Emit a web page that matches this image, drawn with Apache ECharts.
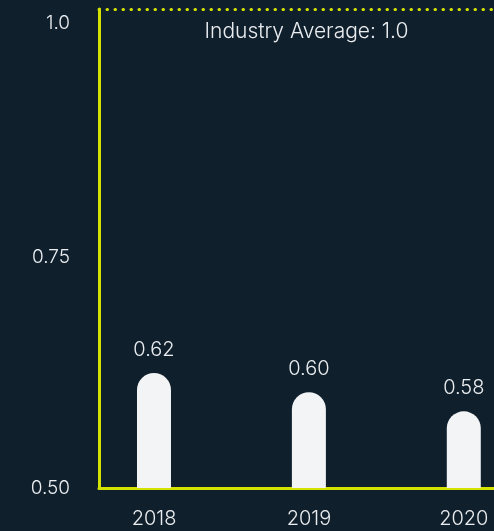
<!DOCTYPE html>
<html>
<head>
<meta charset="utf-8">
<style>
  html, body { margin: 0; padding: 0; background: #101f2c; }
  #chart { width: 494px; height: 531px; }
</style>
<script src="https://cdn.jsdelivr.net/npm/echarts@6/dist/echarts.min.js"></script>
</head>
<body>
<div id="chart"></div>
<script>
// Efficiency ratio per year against the industry benchmark
const years = [2018, 2019, 2020];
const ratios = [0.62, 0.60, 0.58];
const industryAverage = 1.0;

const ACCENT = '#d4e200';
const TEXT = '#e9edf0';
const FONT = 'Inter, "Noto Sans", sans-serif';

const chart = echarts.init(document.getElementById('chart'), null, { renderer: 'canvas' });

chart.setOption({
  backgroundColor: '#101f2c',
  animation: false,
  grid: { left: 99, right: 0, top: 9, bottom: 43, containLabel: false },
  xAxis: {
    type: 'value',
    min: 2017.645,
    max: 2020.195,
    splitLine: { show: false },
    axisLine: { show: true, lineStyle: { color: ACCENT, width: 3 } },
    axisTick: { show: false },
    axisLabel: {
      customValues: years,
      color: TEXT,
      fontFamily: FONT,
      fontWeight: 300,
      fontSize: 20,
      margin: 21,
      formatter: v => String(v)
    }
  },
  yAxis: {
    type: 'value',
    min: 0.5,
    max: 1.0,
    interval: 0.25,
    splitLine: { show: false },
    axisLine: { show: true, lineStyle: { color: ACCENT, width: 3 } },
    axisTick: { show: false },
    axisLabel: {
      color: TEXT,
      fontFamily: FONT,
      fontWeight: 300,
      fontSize: 19,
      margin: 29,
      formatter: v => {
        if (v === 1) return '{top|1.0}';
        if (v === 0.75) return '{mid|0.75}';
        return v.toFixed(2);
      },
      rich: {
        top: { color: TEXT, fontFamily: FONT, fontWeight: 300, fontSize: 19, padding: [28, 0, 0, 0] },
        mid: { color: TEXT, fontFamily: FONT, fontWeight: 300, fontSize: 19, padding: [17, 0, 0, 0] }
      }
    }
  },
  series: [{
    type: 'bar',
    barWidth: 34,
    data: years.map((y, i) => [y, ratios[i]]),
    itemStyle: { color: '#f2f4f6', borderRadius: [17, 17, 0, 0] },
    label: {
      show: true,
      position: 'top',
      distance: 13,
      color: TEXT,
      fontFamily: FONT,
      fontWeight: 300,
      fontSize: 20,
      formatter: p => p.value[1].toFixed(2)
    },
    markLine: {
      silent: true,
      symbol: 'none',
      lineStyle: { color: ACCENT, type: [0.5, 7.5], width: 3, cap: 'round' },
      label: {
        show: true,
        position: 'insideMiddleBottom',
        distance: 12,
        offset: [10, 0],
        color: TEXT,
        fontFamily: FONT,
        fontWeight: 300,
        fontSize: 21,
        formatter: 'Industry Average: ' + industryAverage.toFixed(1)
      },
      data: [{ yAxis: industryAverage }]
    }
  }]
});
</script>
</body>
</html>
